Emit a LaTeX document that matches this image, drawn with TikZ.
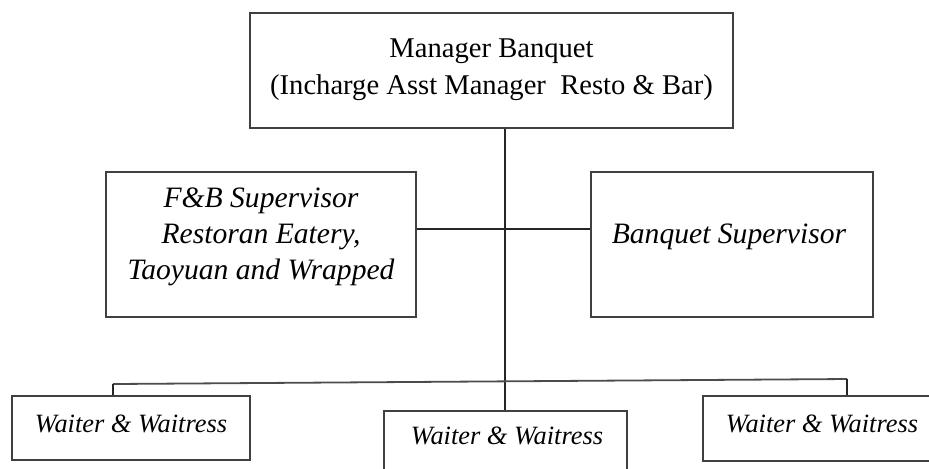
\documentclass[tikz,border=0pt]{standalone}
\usepackage{fontspec}
\setmainfont{Liberation Serif}
\usetikzlibrary{fit}
\begin{document}
\begin{tikzpicture}[x=0.5pt,y=-0.5pt,
        box/.style={draw=black!75,line width=0.9pt,inner sep=0pt},
        link/.style={draw=black!85,line width=0.65pt},
        headtxt/.style={font=\fontsize{14.3}{18.3}\selectfont,align=center,anchor=base,inner sep=0pt},
        suptxt/.style={font=\fontsize{14.8}{18}\selectfont\itshape,align=center,anchor=base,inner sep=0pt},
        waittxt/.style={font=\fontsize{13.2}{15}\selectfont\itshape,anchor=base,inner sep=0pt}]
        \useasboundingbox (0,0) rectangle (929,468);
        \clip (0,0) rectangle (929,468);
        \node[box,fit={(250,13) (733,128)}] (mgr) {};
        \node[box,fit={(106,172) (416,317)}] (fnb) {};
        \node[box,fit={(591,172) (873,317)}] (bqt) {};
        \node[box,fit={(12,396) (250,460)}] (waitL) {};
        \node[box,fit={(384,411) (627,476)}] (waitC) {};
        \node[box,fit={(703,396) (942,461)}] (waitR) {};
        \node[headtxt] (mgrtxt) at (491.5,94) {Manager Banquet\\(Incharge Asst Manager\ \ Resto \& Bar)};
        \node[suptxt] (fnbtxt) at (261,279) {F\&B Supervisor\\Restoran Eatery,\\Taoyuan and Wrapped};
        \node[suptxt] (bqttxt) at (729,243) {Banquet Supervisor};
        \node[waittxt] (waitLtxt) at (131,432) {Waiter \& Waitress};
        \node[waittxt] (waitCtxt) at (507,444) {Waiter \& Waitress};
        \node[waittxt] (waitRtxt) at (822,432) {Waiter \& Waitress};
        \coordinate (hub) at (505,229);
        \coordinate (barL) at (113,384);
        \coordinate (barR) at (847,379);
        \draw[link] (hub |- mgr.south) -- (hub |- waitC.north);
        \draw[link] (fnb.east |- hub) -- (bqt.west |- hub);
        \draw[link,line width=0.9pt,draw=black!70] (barL) -- (barR);
        \draw[link] (barL) -- (barL |- waitL.north);
        \draw[link] (barR) -- (barR |- waitR.north);
\end{tikzpicture}
\end{document}
